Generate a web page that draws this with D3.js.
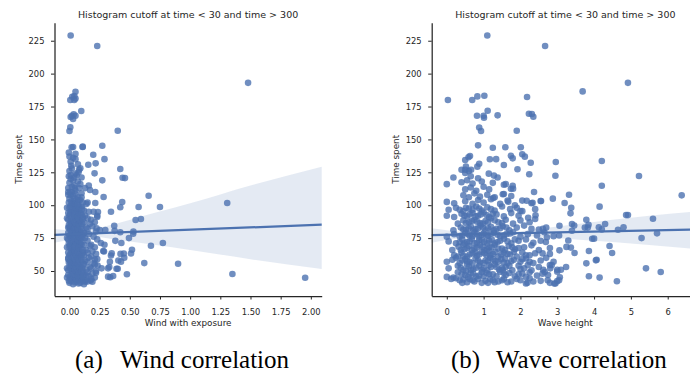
<!DOCTYPE html>
<html>
<head>
<meta charset="utf-8">
<script src="https://cdn.jsdelivr.net/npm/d3@7"></script>
<style>
  body { margin: 0; background: #fff; }
  svg text { font-family: "DejaVu Sans", sans-serif; fill: #262626; }
  .caption { font-family: "Liberation Serif", serif; fill: #000; }
</style>
</head>
<body>
<svg id="chart" width="690" height="381"></svg>
<script>
// ---- data ----
const yTicks = [50, 75, 100, 125, 150, 175, 200, 225];
const windTicks = [0, 0.25, 0.5, 0.75, 1, 1.25, 1.5, 1.75, 2];
const waveTicks = [0, 1, 2, 3, 4, 5, 6];

const titleText = 'Histogram cutoff at time < 30 and time > 300';
const yLabel = 'Time spent';
const windLabel = 'Wind with exposure';
const waveLabel = 'Wave height';

// [wind with exposure, time spent]
const windPoints = [
  [0.01,229],[0.23,221],[1.48,193],[1.307,101.7],[0.90,55.5],[1.35,47.7],[1.953,44.9],[0.774,71.3],[0.675,69.2],
  [0.75,98.6],[0.656,107.2],[0.62,56],[0.573,98.6],[0.592,89.5],[0.548,88.8],[0.53,80],[0.528,78.3],[0.493,75],
  [0.518,66.2],[0.51,63.3],[0.476,47.5],[0.40,156.6],[0.272,145.2],[0.29,135],[0.197,138.4],[0.217,131.8],
  [0.272,118.9],[0.208,124.2],[0.156,130.8],[0.109,144.2],[0.098,171.6],[0.421,127.5],[0.44,120.9],[0.46,120.6],
  [0.437,102.4],[0.421,98.4],[0.344,95],[0.236,94.8],[0.23,91],[0.214,101.7],[0.214,110],[0.283,106.2],
  [0.371,84.4],[0.374,80.5],[0.297,81.2],[0.421,79.4],[0.38,72.9],[0.43,71.3],[0.45,63.3],[0.423,63],[0.40,51.7],
  [0.39,51.7],[0.405,58],[0.344,61.8],[0.33,53],[0.338,45.2],[0.362,46.2],[0.286,64.8],[0.29,70],[0.26,71.3],
  [0.335,57],[0.266,52],[0.22,48.7],[0.176,42.7],[0.137,46.5],[0.13,41.8],[0.233,54.2],[0.21,58.7],[0.252,81.2],
  [0.17,111.5],[0.225,82.4],[0.28,65.2],[0.35,63.4],[0.454,60.1],[0.427,57.1],[0.32,52],[0.32,45.7],[0.19,41.9],
  [0.05,186.2],[0.023,182.4],[0.04,183],[0.05,181],[0.007,180],[0.04,180],[0.02,168],[0.035,169],[0.05,168],
  [0.01,167],[0.03,165.5],[0.007,159.2],[0.0,156.4],[0.03,144.2],[0.018,144],[0.11,144.5],
  [0.00,41],[0.01,44],[-0.01,47],[0.02,50],[0.00,53],[0.01,56],[-0.01,59],[0.00,62],[0.02,65],[0.00,68],
  [0.01,71],[-0.01,74],[0.00,77],[0.02,80],[0.00,83],[0.01,86],[-0.01,89],[0.00,92],[0.01,95],[0.00,98],
  [0.02,101],[0.00,105],[0.01,108],[-0.01,113],[0.00,117],[0.01,120],[0.00,126],[0.01,133],[0.00,137],
  [0.03,40],[0.04,43],[0.03,46],[0.05,49],[0.03,52],[0.04,55],[0.03,58],[0.05,61],[0.03,64],[0.04,67],
  [0.03,70],[0.05,73],[0.03,76],[0.04,79],[0.03,82],[0.05,85],[0.03,88],[0.04,91],[0.03,94],[0.05,97],
  [0.03,100],[0.04,103],[0.03,107],[0.02,110],[0.04,115],[0.03,119],[0.05,124],[0.02,128],[0.03,136],
  [0.06,42],[0.07,45],[0.06,48],[0.08,51],[0.06,54],[0.07,57],[0.06,60],[0.08,63],[0.06,66],[0.07,69],
  [0.06,72],[0.08,75],[0.06,78],[0.07,81],[0.06,84],[0.08,87],[0.06,90],[0.07,93],[0.06,96],[0.08,99],
  [0.06,102],[0.07,106],[0.05,111],[0.07,118],[0.06,123],[0.08,127],[0.07,131],[0.05,135],
  [0.09,41],[0.10,44],[0.09,47],[0.11,50],[0.09,53],[0.10,57],[0.09,61],[0.11,64],[0.09,67],[0.10,70],
  [0.09,74],[0.11,77],[0.09,80],[0.10,84],[0.09,88],[0.11,91],[0.09,94],[0.10,99],[0.09,104],[0.10,109],
  [0.09,116],[0.10,121],[0.09,128],
  [0.12,40],[0.13,43],[0.12,47],[0.14,51],[0.12,55],[0.13,58],[0.12,62],[0.14,66],[0.12,70],[0.13,75],
  [0.12,79],[0.14,83],[0.12,87],[0.13,92],[0.12,96],[0.14,101],[0.13,113],
  [0.15,42],[0.16,46],[0.15,49],[0.17,53],[0.15,57],[0.16,60],[0.15,64],[0.17,69],[0.15,73],[0.16,78],
  [0.15,82],[0.17,86],[0.15,90],[0.16,95],[0.15,102],[0.16,115],
  [0.18,44],[0.19,48],[0.18,52],[0.20,56],[0.18,61],[0.19,65],[0.18,70],[0.20,76],[0.19,84],[0.18,89],[0.20,95],
  [0.21,45],[0.22,50],[0.21,55],[0.23,59],[0.22,63],[0.21,68],[0.23,74],[0.22,80],[0.21,87],[0.23,92],
  [-0.02,45],[-0.02,52],[-0.01,60],[-0.02,68],[-0.02,75],[-0.01,83],[-0.02,90],[-0.02,98],[-0.01,108],
  [0.015,42.5],[0.005,45.5],[0.02,48.5],[0.01,51.5],[0.015,54.5],[0.005,57.5],[0.02,60.5],[0.01,63.5],
  [0.015,66.5],[0.005,69.5],[0.02,72.5],[0.01,75.5],[0.015,78.5],[0.005,81.5],[0.02,84.5],[0.01,87.5],
  [0.015,90.5],[0.005,93.5],[0.02,96.5],[0.01,99.5],[0.015,103],[0.005,110],[0.02,114],[0.01,123],[0.015,130],
  [0.045,41.5],[0.05,44.5],[0.04,47.5],[0.045,50.5],[0.055,53.5],[0.04,56.5],[0.045,59.5],[0.05,62.5],
  [0.04,65.5],[0.045,68.5],[0.055,71.5],[0.04,74.5],[0.045,77.5],[0.05,80.5],[0.04,83.5],[0.045,86.5],
  [0.055,89.5],[0.04,92.5],[0.045,95.5],[0.05,98.5],[0.04,101.5],[0.045,105],[0.05,108.5],[0.045,113],
  [0.04,121],[0.05,139],
  [0.075,40.5],[0.08,43.5],[0.07,46.5],[0.075,49.5],[0.085,52.5],[0.07,55.5],[0.075,58.5],[0.08,61.5],
  [0.07,64.5],[0.075,67.5],[0.085,70.5],[0.07,73.5],[0.075,76.5],[0.08,79.5],[0.07,82.5],[0.075,85.5],
  [0.085,88.5],[0.07,91.5],[0.075,94.5],[0.08,97.5],[0.07,100.5],[0.075,104],[0.08,113],[0.075,125],
  [0.105,42.5],[0.11,46],[0.1,49],[0.105,52],[0.115,55],[0.1,59],[0.105,62.5],[0.11,66],[0.1,72],
  [0.105,75.5],[0.115,79],[0.1,82],[0.105,86],[0.11,89.5],[0.1,93],[0.105,97],[0.11,102],[0.1,106],
  [-0.005,42.5],[-0.01,50.5],[-0.005,56.5],[-0.01,64],[-0.005,71],[-0.01,79],[-0.005,85],[-0.01,94],
  [-0.005,102],[-0.01,110],[-0.005,122],[-0.005,140]
];

// [wave height, time spent]
const wavePoints = [
  [1.10,229],[2.67,221],[4.92,193],[3.69,186.5],[0.03,180],[0.69,180],[0.83,182.7],[1.02,183.2],[2.18,182.2],
  [1.11,171.8],[0.82,168],[1.0,168],[1.01,166.5],[1.38,168.3],[2.23,169.5],[2.31,169.3],[2.35,167.2],
  [0.88,159],[0.93,156.4],[1.90,156.6],[0.85,145.5],[1.25,143.7],[1.59,144],[2.01,144],[0.63,137.4],
  [0.59,136.4],[1.17,134.9],[1.34,135],[1.74,137.6],[1.79,135.6],[2.05,138.7],[2.12,136.9],[2.28,132.3],
  [1.55,130.5],[1.92,127.3],[2.37,110],[0.50,134.3],[0.52,129.3],[0.88,131.5],[0.83,129.3],
  [0.4,127],[0.5,127],[0.6,126],[0.66,127],[1.55,115.6],[1.79,114.8],[1.74,112.5],[1.52,108.3],[1.26,105.5],
  [1.67,102.7],[1.85,99.9],[2.17,103.4],[2.33,101.9],[2.55,103.2],[2.41,92.3],[2.21,90.5],[2.0,95.6],
  [2.96,132.8],[4.21,133.6],[2.95,122.4],[5.22,122.2],[4.21,114.8],[6.38,107.5],[3.32,108],[2.88,105],
  [3.20,101.7],[3.38,98.1],[3.36,93.8],[4.15,98.9],[2.56,103.2],[4.87,92.5],[4.92,92.5],[5.60,89.7],
  [5.71,78.6],[5.29,75],[3.79,89],[3.85,85.2],[3.83,83],[4.13,83.2],[4.21,81.6],[4.30,85.7],[3.75,83],
  [3.40,85.7],[3.46,84.5],[3.40,80.6],[3.06,84.4],[3.05,77],[2.61,82],[2.72,75.6],[2.69,72],[3.95,74.5],
  [4.0,74.6],[4.65,81.4],[4.80,83.2],[4.42,69],[4.49,63.7],[3.30,73.2],[3.25,68.3],[3.37,67.8],[3.47,63.7],
  [3.06,65.7],[3.86,65.2],[3.79,55.8],[4.05,58.1],[4.07,58.6],[3.24,53],[5.41,52],[5.81,49.2],[3.86,46],
  [4.15,45],[4.62,42.2],[2.80,54.5],[2.81,52],[3.0,51],[3.07,45.2],[3.0,42.3],[2.8,41],[2.95,40.5],
  [2.74,43],[2.66,49.2],[2.6,63.4],[2.7,60],[2.8,63],
  [0.42,41],[0.45,43.5],[0.75,42],[0.85,44],[1.05,42.5],[1.12,41],[1.25,43],[1.55,44],[1.75,42],[2.0,43],
  [2.15,40.5],[2.19,41],[2.35,42],[2.92,40.5],[3.05,43],[0.12,44],[0.25,44.5],[0.7,43],[1.3,41.5],
  [1.5,43],[1.9,44],
  [0.0,45.5],[0.18,45],[0.5,47],[0.65,48.5],[0.8,46],[0.95,49],[1.15,47.5],[1.35,46],[1.45,49.5],[1.6,47],
  [1.7,48.5],[1.85,46],[2.05,48],[2.25,49],[2.45,46.5],[2.6,48],[2.75,47],[3.0,49.5],[0.3,49],[1.0,46],
  [0.05,52],[0.3,54],[0.45,51],[0.6,53.5],[0.72,51.5],[0.88,54],[1.0,52],[1.1,50.5],[1.2,53],[1.3,55],
  [1.42,51],[1.6,53],[1.78,50.5],[1.95,54],[2.1,52],[2.3,50.5],[2.5,53],[2.62,51],[2.85,54.5],[3.1,51],
  [0.55,55],[1.5,52.5],
  [0.0,57],[0.15,58.5],[0.35,56],[0.5,59],[0.62,57],[0.78,59.5],[0.9,56.5],[1.05,58],[1.18,60],[1.32,57.5],
  [1.48,59],[1.65,56],[1.82,58.5],[2.0,57],[2.15,59.5],[2.35,56],[2.55,58],[2.9,57],[0.25,60],[1.55,56.5],
  [0.2,62],[0.4,64],[0.55,61],[0.7,63.5],[0.82,61.5],[0.95,64.5],[1.08,62],[1.25,63],[1.4,61],[1.55,64],
  [1.72,62.5],[1.9,61],[2.05,64],[2.25,62],[2.4,63.5],[0.3,61],[1.15,65],
  [0.15,66],[0.32,68.5],[0.48,66.5],[0.6,69],[0.75,67],[0.9,69.5],[1.02,66],[1.15,68],[1.3,70],[1.5,67],
  [1.68,69],[1.85,66.5],[2.1,68],[2.3,69.5],[2.5,66],[2.8,67.5],[0.45,70],
  [0.05,72.5],[0.25,71],[0.42,74],[0.55,72],[0.68,74.5],[0.82,71.5],[0.95,73.5],[1.1,71],[1.22,74],
  [1.38,72],[1.55,74.5],[1.75,71],[1.95,73],[2.15,74],[2.35,71.5],[2.55,73],
  [0.0,76],[0.2,78],[0.35,76.5],[0.5,79],[0.62,77],[0.75,79.5],[0.88,76],[1.0,78.5],[1.12,77],[1.28,79],
  [1.45,76.5],[1.62,78],[1.8,79.5],[2.0,76],[2.2,78],[2.45,77],[2.65,79.5],[2.9,76.5],
  [0.18,81],[0.38,83],[0.52,81.5],[0.65,84],[0.78,82],[0.92,84.5],[1.05,81],[1.2,83.5],[1.35,82],
  [1.52,84],[1.7,81],[1.9,83],[2.1,84.5],[2.3,82],[2.5,81.5],[2.7,83],
  [0.3,86],[0.45,88.5],[0.6,87],[0.75,89],[0.9,86.5],[1.05,88],[1.2,90],[1.4,87],[1.6,89],[1.8,86],
  [2.0,88.5],[2.25,87],[2.4,89.5],
  [0.0,92],[0.2,91],[0.4,93.5],[0.55,91.5],[0.7,94],[0.85,92],[1.0,94.5],[1.15,91],[1.35,93],[1.55,91.5],
  [1.75,94],[1.95,92],
  [0.05,96.5],[0.25,98],[0.45,95.5],[0.6,97.5],[0.8,99],[0.95,96],[1.1,98.5],[1.3,96],[1.5,99],[1.72,97],
  [1.9,98],[2.05,95.5],[2.4,97],
  [0.0,102.5],[0.2,101.5],[0.5,103],[0.7,101],[0.85,104],[1.0,102],[1.2,104.5],[1.45,101],[1.65,103.5],
  [2.05,103.5],[2.3,101.5],
  [0.45,107.5],[0.6,106],[0.75,109],[0.9,106.5],[1.1,108],[1.3,106],[1.55,108.5],[1.75,107],
  [0.5,112],[0.65,113.5],[0.8,111],[1.0,114],[1.15,112],[1.8,112.5],
  [0.0,116],[0.4,117.5],[0.55,119],[0.7,116.5],[0.95,118],[1.25,117],[1.6,116],
  [0.18,121],[0.5,124.5],[0.65,122],[0.85,120.5],[1.14,124],[1.28,122.5],[1.38,121],[2.24,123.5],
  [0.35,43],[0.55,41.5],[0.62,44],[0.95,41],[1.18,44],[1.4,42],[1.65,41.5],[2.25,44.5],[2.55,42.5],
  [0.4,47.5],[0.58,45.5],[0.72,48],[0.88,46.5],[1.08,48.5],[1.25,47.5],[1.55,48.5],[1.95,47.5],[2.15,45.5],
  [0.38,52.5],[0.52,50],[0.65,51],[0.8,52.5],[0.95,51],[1.15,54.5],[1.35,53],[1.52,51],[1.7,54],[2.0,51.5],
  [2.2,54.5],
  [0.42,58],[0.55,57.5],[0.7,56],[0.85,58],[1.0,56],[1.12,57.5],[1.25,59],[1.4,57],[1.58,59.5],[1.75,57.5],
  [2.05,59],[2.25,57],
  [0.45,61.5],[0.62,62.5],[0.78,64],[0.88,62.5],[1.02,63.5],[1.18,62],[1.32,64.5],[1.48,62.5],[1.65,63],
  [1.82,64.5],[2.15,62],
  [0.38,66],[0.55,67.5],[0.68,66],[0.82,68],[0.98,68.5],[1.1,66.5],[1.22,68],[1.4,67],[1.58,66],[1.78,68],
  [1.95,67.5],
  [0.35,72],[0.48,71],[0.62,72.5],[0.75,71],[0.88,73.5],[1.02,72],[1.15,73],[1.3,71],[1.45,73],[1.65,72.5],
  [1.85,74],
  [0.42,77],[0.58,78],[0.7,76.5],[0.82,78],[0.95,77.5],[1.08,76.5],[1.2,78.5],[1.38,77.5],[1.55,77],[1.72,78.5],
  [0.45,81.5],[0.6,82.5],[0.72,81],[0.85,82.5],[0.98,83],[1.12,82.5],[1.28,81],[1.45,82.5],[1.62,83],
  [0.52,86.5],[0.68,88],[0.82,87.5],[0.98,86],[1.12,87],[1.3,88.5],[1.5,86.5],
  [0.48,92],[0.62,93],[0.78,91.5],[0.92,93],[1.08,92.5],[1.25,93.5],
  [0.35,96.5],[0.52,98],[0.7,96.5],[0.88,97.5],[1.2,97]
];

// regression fit line and its confidence band
const windFitX = [-0.124, 2.09];
const windFitY = [77.4, 85.2];
const windBandX  = [-0.124, 0.0, 0.1, 0.2, 0.4, 0.7, 1.0, 1.5, 2.09];
const windBandLo = [71.5, 74, 76, 76, 73.5, 70, 66, 59, 51.5];
const windBandHi = [82, 81, 80.5, 82, 86.2, 94, 101.5, 115, 129.3];

const waveFitX = [-0.41, 6.85];
const waveFitY = [77.3, 81.6];
const waveBandX  = [-0.41, 0.0, 0.5, 1.0, 1.5, 2.0, 2.5, 3.5, 4.5, 5.5, 6.85];
const waveBandLo = [71.5, 73.5, 75.5, 76.5, 77, 76.8, 76, 74, 72, 69.8, 66.5];
const waveBandHi = [82.4, 81, 79.8, 79.2, 79.3, 80.2, 82, 85.5, 89, 92, 95.5];

const captions = [
  { tag: '(a)', text: 'Wind correlation' },
  { tag: '(b)', text: 'Wave correlation' }
];

// ---- drawing ----
const blue = '#4c72b0';
const svg = d3.select('#chart');

const plotTop = 22.7, plotBottom = 296;
const yScale = d3.scaleLinear().domain([31, 238.7]).range([plotBottom, plotTop]);

function drawPanel(p) {
  const g = svg.append('g');
  const xScale = d3.scaleLinear().domain(p.domain).range([p.left, p.right]);

  const band = p.bandX.map((x, i) => ({ x: x, lo: p.bandLo[i], hi: p.bandHi[i] }));
  g.append('path')
    .datum(band)
    .attr('fill', blue)
    .attr('fill-opacity', 0.15)
    .attr('d', d3.area()
      .x(d => xScale(d.x))
      .y0(d => yScale(d.lo))
      .y1(d => yScale(d.hi))
      .curve(d3.curveMonotoneX));

  g.selectAll('circle')
    .data(p.points)
    .enter()
    .append('circle')
    .attr('cx', d => xScale(d[0]))
    .attr('cy', d => yScale(d[1]))
    .attr('r', 3.3)
    .attr('fill', blue)
    .attr('fill-opacity', 0.8);

  g.append('path')
    .datum(p.fitX.map((x, i) => [x, p.fitY[i]]))
    .attr('fill', 'none')
    .attr('stroke', blue)
    .attr('stroke-width', 2.2)
    .attr('d', d3.line().x(d => xScale(d[0])).y(d => yScale(d[1])));

  const yAxis = g.append('g')
    .attr('transform', `translate(${p.left}, 0)`)
    .call(d3.axisLeft(yScale).tickValues(yTicks).tickSize(3.5).tickSizeOuter(0).tickPadding(6.5));

  const xAxis = g.append('g')
    .attr('transform', `translate(0, ${plotBottom})`)
    .call(d3.axisBottom(xScale).tickValues(p.ticks).tickFormat(p.format)
      .tickSize(3.5).tickSizeOuter(0).tickPadding(9.8));

  [yAxis, xAxis].forEach(a => {
    a.select('.domain').attr('stroke', '#262626').attr('stroke-width', 1.25);
    a.selectAll('.tick line').attr('stroke', '#262626').attr('stroke-width', 1);
    a.selectAll('text').attr('font-size', '8.4px').attr('font-family', '"DejaVu Sans", sans-serif').attr('fill', '#262626');
  });

  g.append('text')
    .attr('x', (p.left + p.right) / 2)
    .attr('y', 17.7)
    .attr('text-anchor', 'middle')
    .attr('font-size', '9.5px')
    .text(titleText);

  g.append('text')
    .attr('x', (p.left + p.right) / 2)
    .attr('y', 326.4)
    .attr('text-anchor', 'middle')
    .attr('font-size', '8.8px')
    .text(p.label);

  g.append('text')
    .attr('transform', `translate(${p.left - 33}, ${(plotTop + plotBottom) / 2}) rotate(-90)`)
    .attr('text-anchor', 'middle')
    .attr('font-size', '8.8px')
    .text(yLabel);

  svg.append('text')
    .attr('class', 'caption')
    .attr('x', p.capX)
    .attr('y', 368)
    .attr('font-size', '25px')
    .text(p.caption.tag);
  svg.append('text')
    .attr('class', 'caption')
    .attr('x', p.capX + 45)
    .attr('y', 368)
    .attr('font-size', '25px')
    .text(p.caption.text);
}

drawPanel({
  left: 54.5, right: 321.7, domain: [-0.124, 2.09],
  points: windPoints, ticks: windTicks, format: d3.format('.2f'), label: windLabel,
  fitX: windFitX, fitY: windFitY, bandX: windBandX, bandLo: windBandLo, bandHi: windBandHi,
  caption: captions[0], capX: 75
});

drawPanel({
  left: 431.7, right: 699, domain: [-0.41, 6.85],
  points: wavePoints, ticks: waveTicks, format: d3.format('d'), label: waveLabel,
  fitX: waveFitX, fitY: waveFitY, bandX: waveBandX, bandLo: waveBandLo, bandHi: waveBandHi,
  caption: captions[1], capX: 451
});
</script>
</body>
</html>
